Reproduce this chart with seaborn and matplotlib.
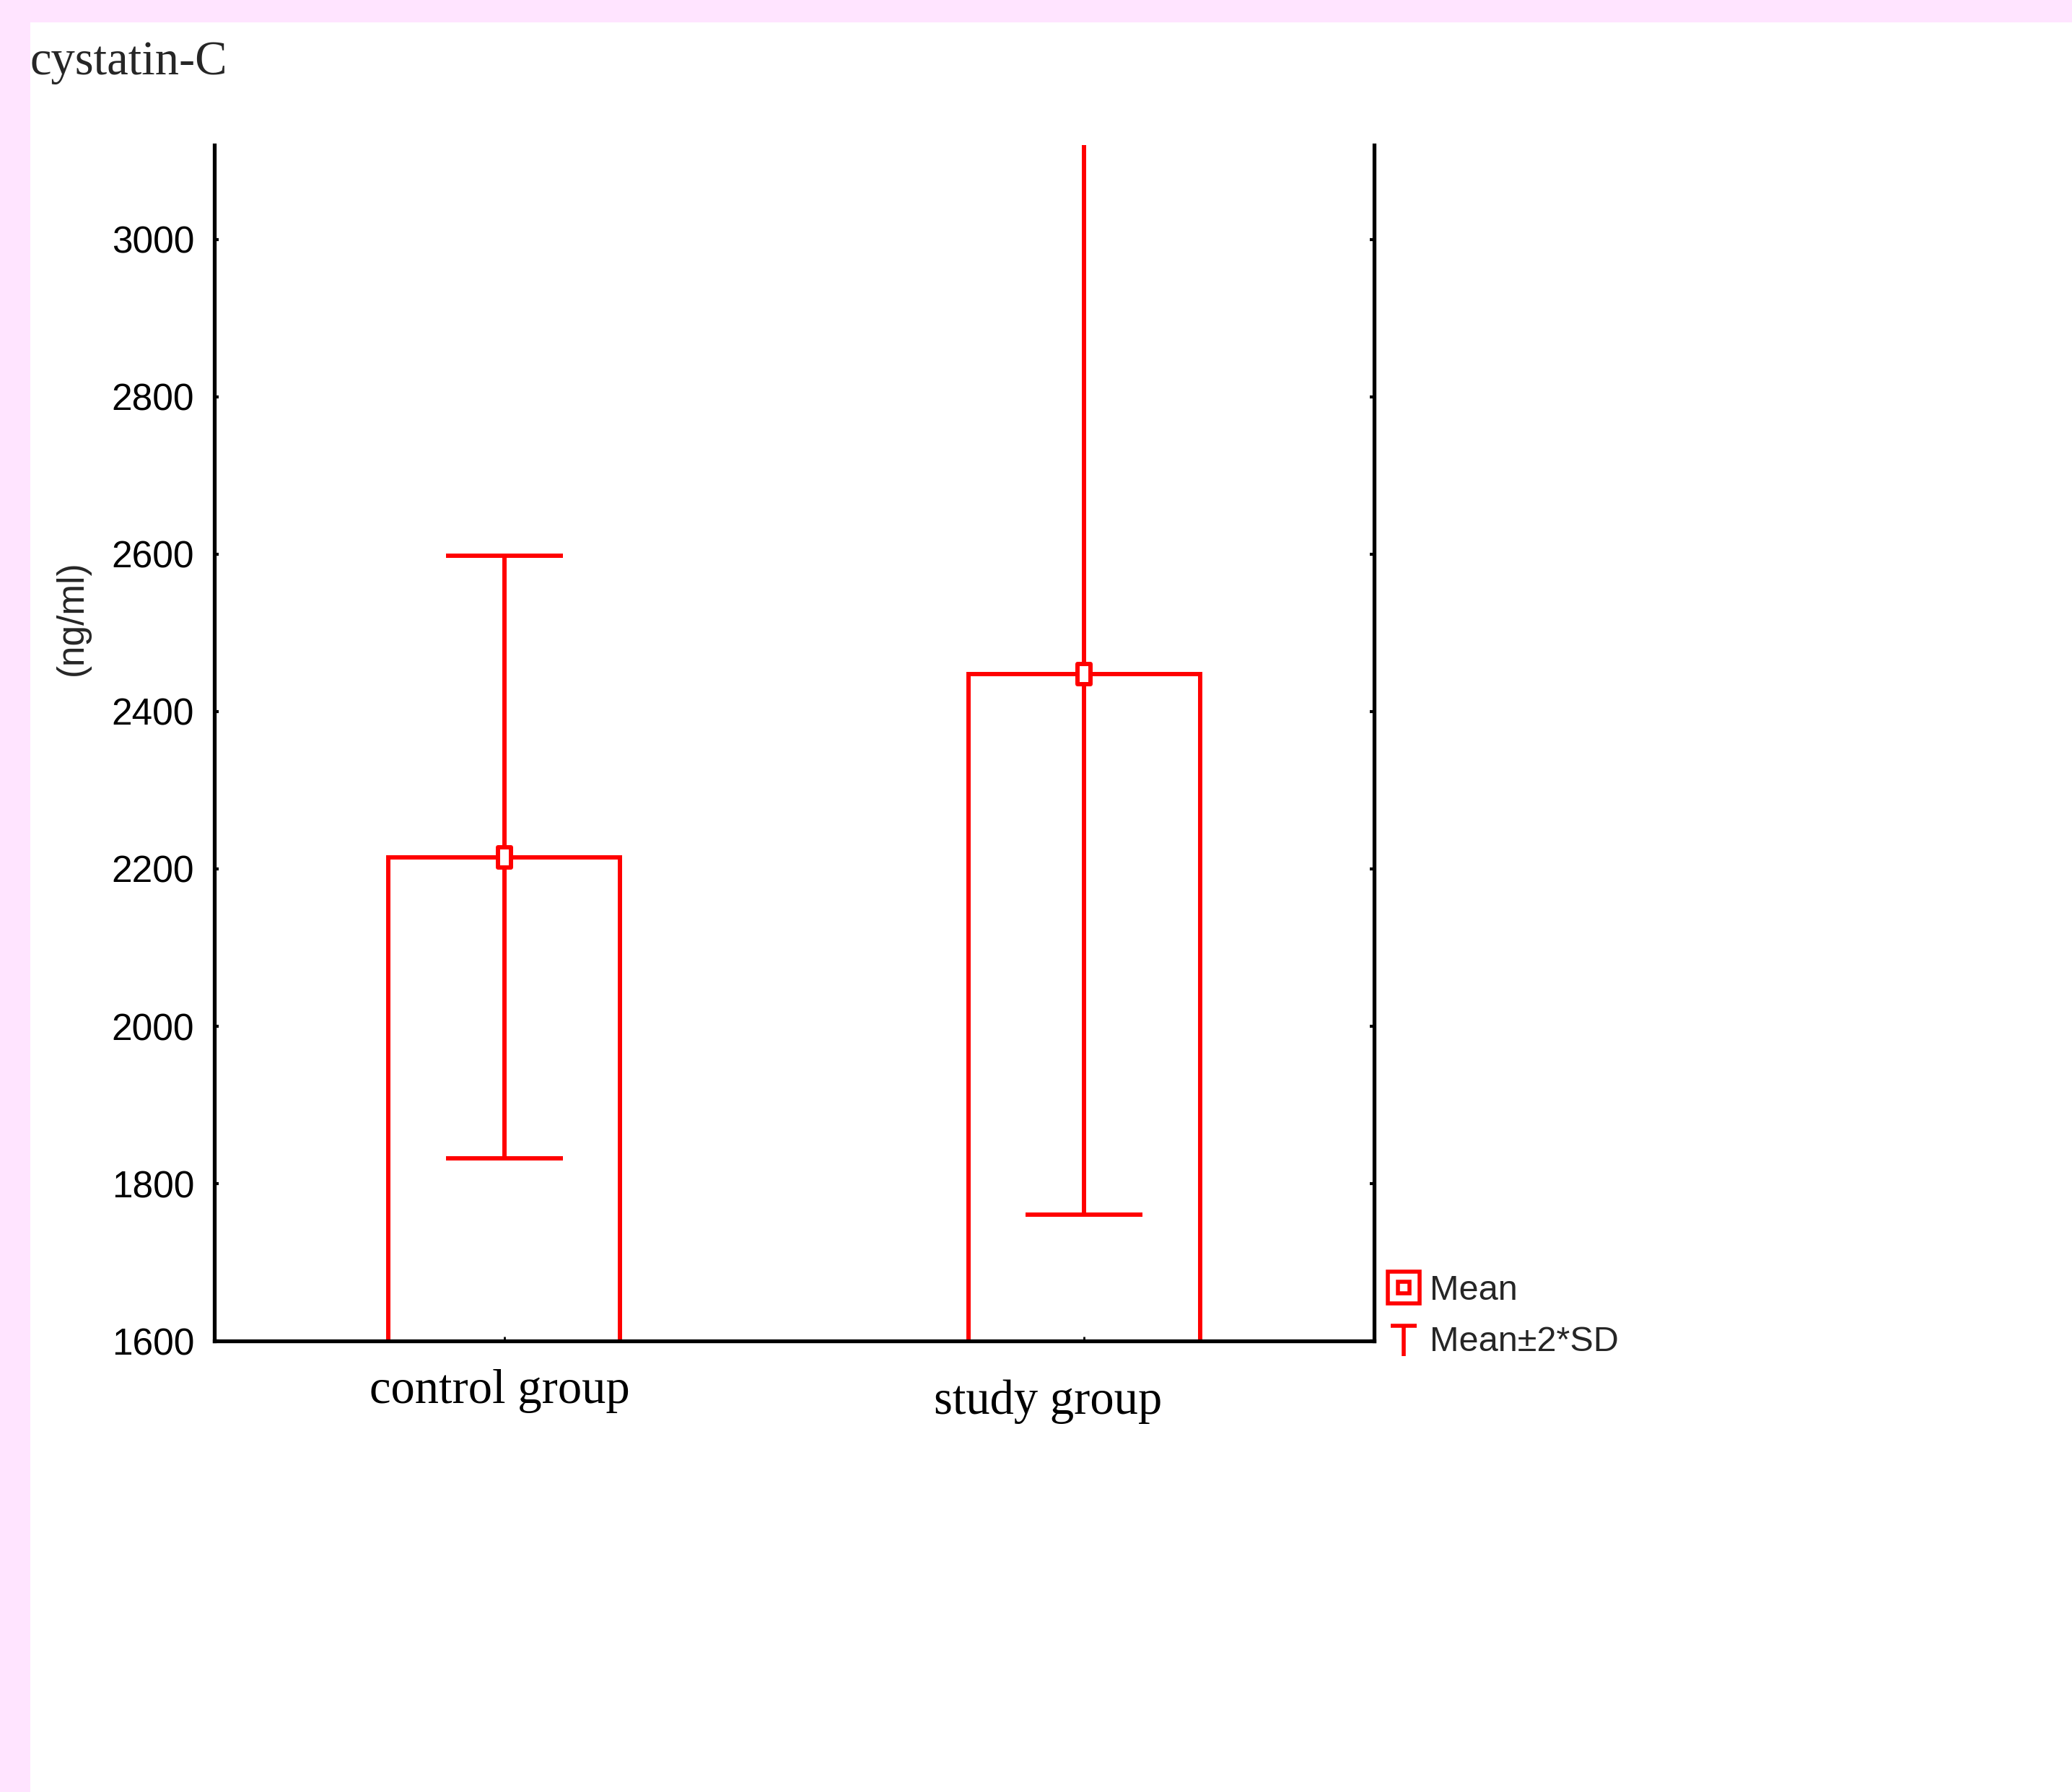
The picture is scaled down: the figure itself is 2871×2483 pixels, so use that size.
import numpy as np
import matplotlib
matplotlib.use('Agg')
import matplotlib.pyplot as plt
from matplotlib.lines import Line2D
from matplotlib.patches import Rectangle
from matplotlib.path import Path
from matplotlib.legend_handler import HandlerTuple
from matplotlib.transforms import ScaledTranslation
import seaborn as sns

# data
groups = ['control group', 'study group']
means = [2215, 2448]
two_sd = [383, 687]
y_ticks = [1600, 1800, 2000, 2200, 2400, 2600, 2800, 3000]

sns.set_style('white')
plt.rcParams['font.family'] = ['Liberation Sans', 'DejaVu Sans']

red = '#ff0000'
pink = '#ffe4ff'
lw = 4.3

fig = plt.figure(figsize=(28.71, 24.83), dpi=100, facecolor=pink)
# white page area inside the pink frame
fig.add_artist(Rectangle((0.0146, 0), 1.0, 0.9875, transform=fig.transFigure,
                         facecolor='white', edgecolor='none', zorder=-10))

ax = fig.add_axes([0.1034, 0.2517, 0.5598, 0.6673])
ax.set_facecolor('white')

sns.barplot(x=groups, y=means, fill=False, color=red, linewidth=lw,
            width=0.4, errorbar=None, ax=ax)

xpos = np.arange(len(groups))
ax.errorbar(xpos, means, yerr=two_sd, fmt='none', ecolor=red,
            elinewidth=lw, capsize=58, capthick=lw, zorder=4)

# tall rectangle marker for the mean
rect = Path([(-2, -3), (2, -3), (2, 3), (-2, 3), (-2, -3)],
            [Path.MOVETO, Path.LINETO, Path.LINETO, Path.LINETO, Path.CLOSEPOLY])
ax.plot(xpos, means, ls='none', marker=rect, ms=20, mfc='white',
        mec=red, mew=lw, zorder=5)

ax.set_xlim(-0.5, 1.5)
ax.set_ylim(1600, 3120)
ax.set_yticks(y_ticks)
ax.set_yticklabels([str(t) for t in y_ticks], fontsize=37)
ax.set_xticks(xpos)
ax.set_xticklabels(groups, fontsize=48, family=['Liberation Serif', 'DejaVu Serif'])
ax.set_xlabel('')
ax.set_ylabel('')

for s in ['left', 'right', 'bottom']:
    ax.spines[s].set_visible(True)
    ax.spines[s].set_color('black')
    ax.spines[s].set_linewidth(3.8)
ax.spines['top'].set_visible(False)

ax.tick_params(axis='y', which='both', direction='in', length=4, width=3,
               left=True, right=True, pad=20, colors='black')
ax.tick_params(axis='x', direction='in', length=4, width=2, bottom=True,
               pad=28, colors='black')

# labels sit a little off-centre in the original
lbls = ax.get_xticklabels()
lbls[0].set_transform(lbls[0].get_transform() + ScaledTranslation(-0.06, 0, fig.dpi_scale_trans))
lbls[1].set_transform(lbls[1].get_transform() + ScaledTranslation(-0.5, -0.15, fig.dpi_scale_trans))

fig.text(0.0146, 0.965, 'cystatin-C', fontsize=48, va='center', ha='left',
         family=['Liberation Serif', 'DejaVu Serif'])
fig.text(0.035, 0.655, '(ng/ml)', fontsize=37, rotation=90, va='center', ha='center')

# legend
big = Line2D([], [], ls='none', marker='s', ms=31, mfc='white', mec=red, mew=4)
small = Line2D([], [], ls='none', marker='s', ms=11, mfc='white', mec=red, mew=4)
tee = Path([(-1, 1), (1, 1), (0, 1), (0, -1.3)],
           [Path.MOVETO, Path.LINETO, Path.MOVETO, Path.LINETO])
whisk = Line2D([], [], ls='none', marker=tee, ms=34, mfc='none', mec=red, mew=4)
fig.legend([(big, small), whisk], ['Mean', 'Mean\u00b12*SD'],
           handler_map={tuple: HandlerTuple(ndivide=1)},
           loc='upper left', bbox_to_anchor=(0.669, 0.2888), frameon=False,
           fontsize=35, handlelength=1.0, handletextpad=0.25, labelspacing=0.53,
           borderpad=0, borderaxespad=0)

fig.savefig('out.png', dpi=100, facecolor=pink)
